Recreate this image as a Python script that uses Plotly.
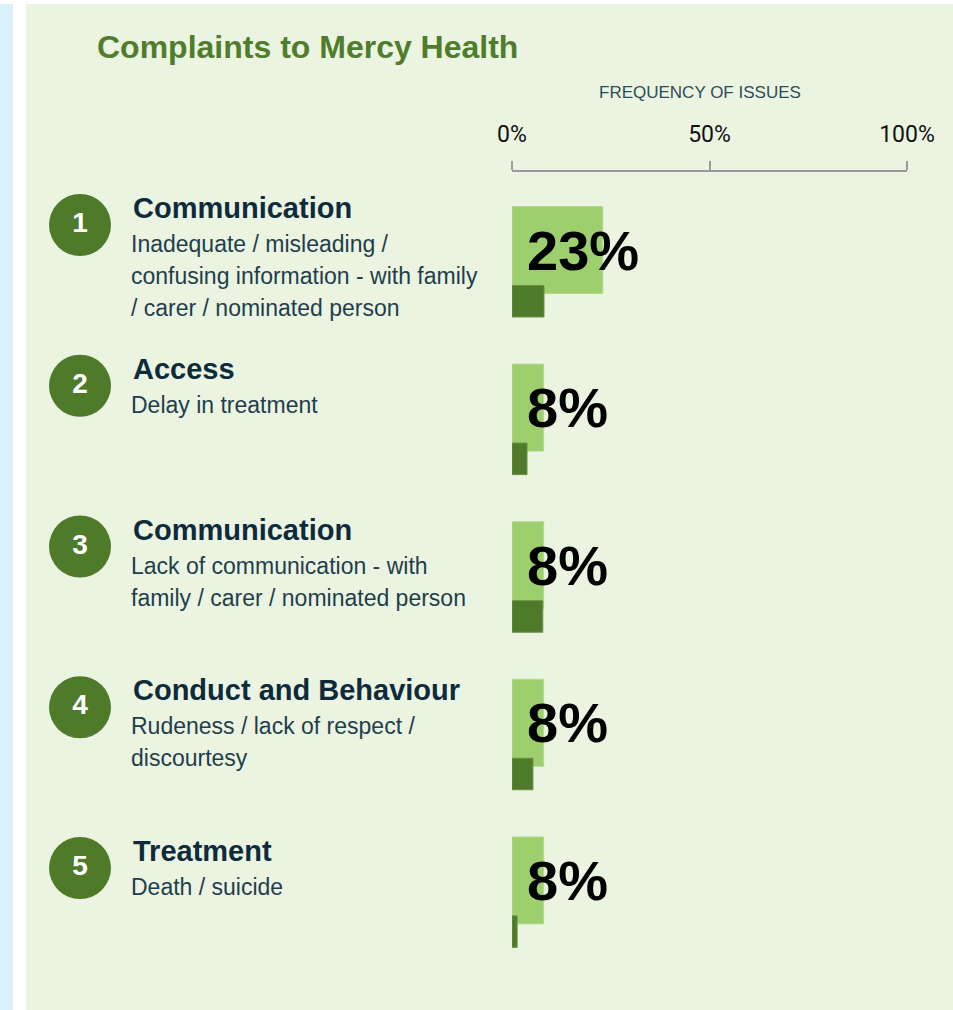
import plotly.graph_objects as go

# ranked complaint issues
ranks = [1, 2, 3, 4, 5]
issue_titles = ["Communication", "Access", "Communication", "Conduct and Behaviour", "Treatment"]
issue_details = [
    ["Inadequate / misleading /", "confusing information - with family", "/ carer / nominated person"],
    ["Delay in treatment"],
    ["Lack of communication - with", "family / carer / nominated person"],
    ["Rudeness / lack of respect /", "discourtesy"],
    ["Death / suicide"],
]
share_pct = [23, 8, 8, 8, 8]
comparison_pct = [8.1, 3.8, 7.8, 5.3, 1.3]
tick_vals = [0, 50, 100]
tick_text = ["0%", "50%", "100%"]

W, H = 953, 1010
FONT = "Liberation Sans, Arial, sans-serif"
dark_green = "#4E7A2A"
light_green = "#9ECF6E"
navy = "#0E2B3C"
slate = "#1F3E4C"

fig = go.Figure()

fig.add_trace(go.Bar(
    y=ranks, x=share_pct, orientation="h",
    width=0.552, offset=-0.276,
    marker=dict(color=light_green, line=dict(color="#B3DA8E", width=1)),
    hoverinfo="skip", showlegend=False,
))
fig.add_trace(go.Bar(
    y=ranks, x=comparison_pct, orientation="h",
    width=0.2, offset=0.225,
    marker=dict(color=dark_green, line=dict(color="#6A9147", width=1)),
    hoverinfo="skip", showlegend=False,
))

# numbered circles on the left column
fig.add_trace(go.Scatter(
    x=[80] * len(ranks), y=ranks, xaxis="x2", yaxis="y2",
    mode="markers+text", text=[str(r) for r in ranks],
    textposition="middle center",
    textfont=dict(family=FONT, size=28, color="white", weight="bold"),
    marker=dict(size=62, color=dark_green, line=dict(width=0)),
    hoverinfo="skip", showlegend=False, cliponaxis=False,
))

annotations = []
# big percentage labels
for r, v in zip(ranks, share_pct):
    annotations.append(dict(
        x=0, y=r, xref="x", yref="y", xanchor="left", yanchor="middle",
        xshift=13, yshift=0, text=f"{v}%", showarrow=False,
        font=dict(family=FONT, size=56, color="black", weight="bold"),
    ))
# titles and descriptions
for r, title, lines in zip(ranks, issue_titles, issue_details):
    annotations.append(dict(
        x=131 / W, y=r, xref="paper", yref="y2", xanchor="left", yanchor="middle",
        yshift=17, text=title, showarrow=False,
        font=dict(family=FONT, size=29, color=navy, weight="bold"),
    ))
    for k, line in enumerate(lines):
        annotations.append(dict(
            x=129 / W, y=r, xref="paper", yref="y2", xanchor="left", yanchor="middle",
            yshift=-(19 + 32 * k), text=line, showarrow=False,
            font=dict(family=FONT, size=23, color=slate),
        ))

annotations.append(dict(
    x=95 / W, y=1 - 47 / H, xref="paper", yref="paper", xanchor="left", yanchor="middle",
    text="Complaints to Mercy Health", showarrow=False,
    font=dict(family=FONT, size=32, color="#4F7D2C", weight="bold"),
))
annotations.append(dict(
    x=700 / W, y=1 - 93 / H, xref="paper", yref="paper", xanchor="center", yanchor="middle",
    text="FREQUENCY OF ISSUES", showarrow=False,
    font=dict(family=FONT, size=17, color="#2E4C58"),
))

shapes = [
    dict(type="rect", xref="paper", yref="paper", x0=0, x1=13 / W, y0=0, y1=1 - 4 / H,
         fillcolor="#DAF1F9", line=dict(width=0), layer="below"),
    dict(type="rect", xref="paper", yref="paper", x0=26 / W, x1=1, y0=0, y1=1 - 4 / H,
         fillcolor="#EBF4E1", line=dict(width=0), layer="below"),
]

fig.update_layout(
    template="none",
    width=W, height=H,
    margin=dict(l=0, r=0, t=0, b=0, pad=0, autoexpand=False),
    paper_bgcolor="white", plot_bgcolor="rgba(0,0,0,0)",
    barmode="overlay", showlegend=False,
    annotations=annotations, shapes=shapes,
    xaxis=dict(
        domain=[512 / W, 907 / W], range=[0, 100], automargin=False,
        anchor="free", position=1 - 171 / H, side="top",
        showline=True, linecolor="#9A9A9A", linewidth=1.5,
        ticks="outside", ticklen=9, tickwidth=1.5, tickcolor="#9A9A9A",
        tickvals=tick_vals, ticktext=tick_text, ticklabelstandoff=10,
        tickfont=dict(family="Roboto, sans-serif", size=23, color="#111111"),
        showgrid=False, zeroline=False, fixedrange=True,
    ),
    yaxis=dict(
        domain=[0, 1], range=[5.8223, -0.5863], automargin=False,
        visible=False, showgrid=False, zeroline=False, fixedrange=True,
    ),
    xaxis2=dict(
        domain=[0, 1], range=[0, W], anchor="y2", automargin=False,
        visible=False, fixedrange=True,
    ),
    yaxis2=dict(
        domain=[0, 1], range=[5.8834, -0.3997], anchor="x2", overlaying="y",
        automargin=False, visible=False, fixedrange=True,
    ),
)

# drop the browser's default page margin so the figure sits at the window corner
fig.write_html("out.html", config={"displayModeBar": False},
               post_script="document.body.style.margin = '0px';")
